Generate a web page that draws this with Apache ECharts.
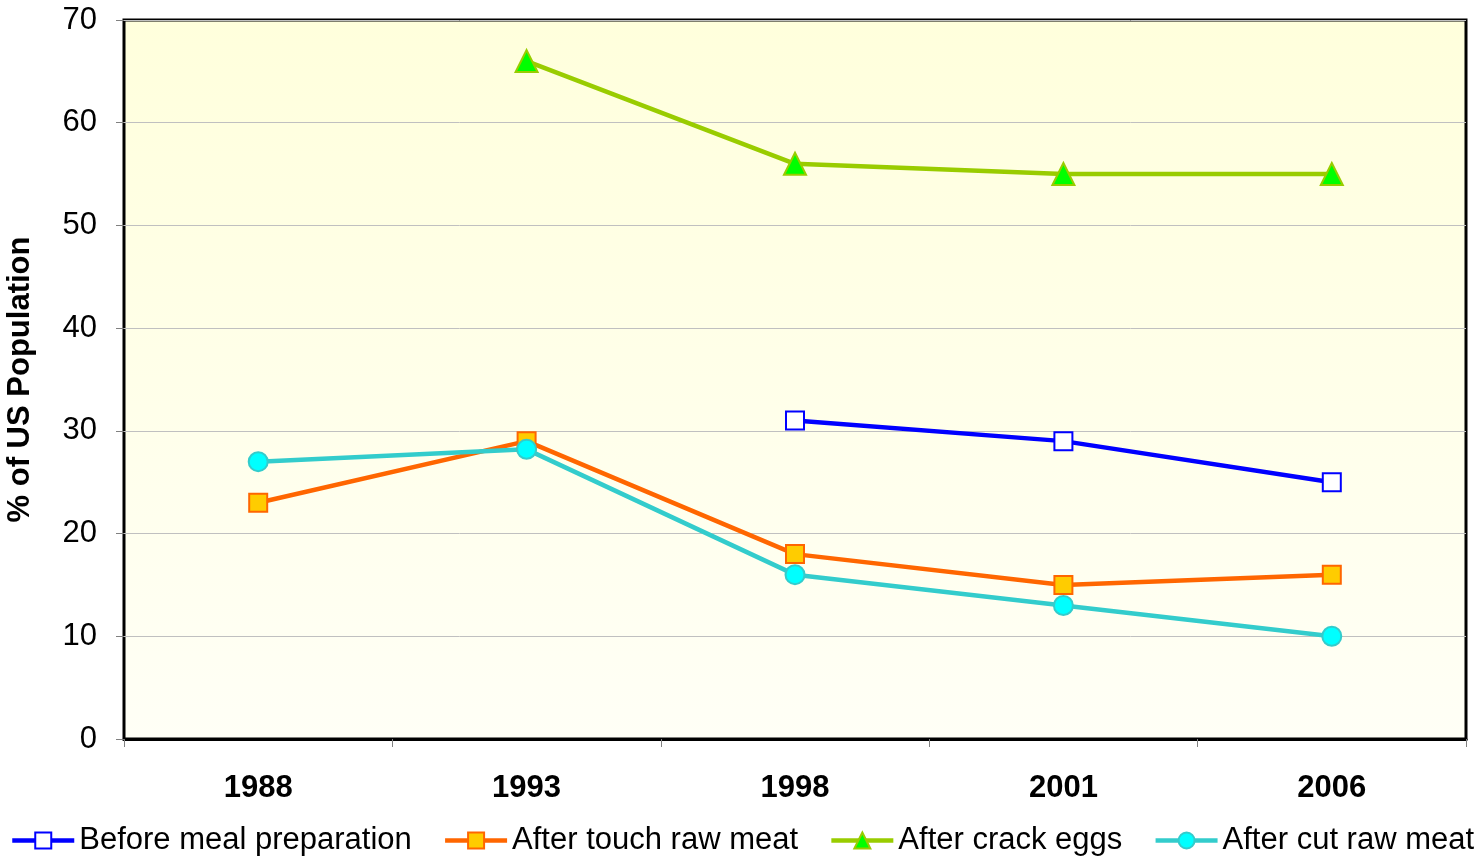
<!DOCTYPE html>
<html>
<head>
<meta charset="utf-8">
<script src="https://cdn.jsdelivr.net/npm/echarts@6/dist/echarts.min.js"></script>
<style>
  html, body { margin: 0; padding: 0; background: #fff; }
  #main { width: 1484px; height: 860px; }
</style>
</head>
<body>
<div id="main"></div>
<script>
var years = ['1988', '1993', '1998', '2001', '2006'];
var beforeMeal = [null, null, 31, 29, 25];
var afterTouchMeat = [23, 29, 18, 15, 16];
var afterCrackEggs = [null, 66, 56, 55, 55];
var afterCutMeat = [27, 28.2, 16, 13, 10];

var chartDom = document.getElementById('main');
var myChart = echarts.init(chartDom);
var option;

function lineSeries(name, data, lineColor, fill, symbol, size) {
  return {
    name: name,
    type: 'line',
    data: data,
    symbol: symbol,
    symbolSize: size,
    showAllSymbol: true,
    connectNulls: false,
    lineStyle: { color: lineColor, width: 4.5 },
    itemStyle: { color: fill, borderColor: lineColor, borderWidth: 2 },
    emphasis: { disabled: true }
  };
}

option = {
  animation: false,
  textStyle: { fontFamily: 'Liberation Sans, Arial, sans-serif' },
  grid: {
    left: 124,
    right: 18,
    top: 20,
    bottom: 121,
    containLabel: false,
    outerBoundsMode: 'none',
    show: true,
    borderColor: '#000',
    borderWidth: 3,
    backgroundColor: {
      type: 'linear', x: 0, y: 0, x2: 0, y2: 1,
      colorStops: [
        { offset: 0, color: '#FFFFDC' },
        { offset: 1, color: '#FFFFF6' }
      ]
    }
  },
  legend: {
    left: 10,
    bottom: 4,
    width: 1480,
    padding: 0,
    itemWidth: 62,
    itemHeight: 20,
    itemGap: 31,
    lineStyle: { width: 4.5 },
    textStyle: { fontSize: 31, color: '#000', fontFamily: 'Liberation Sans, Arial, sans-serif' },
    data: ['Before meal preparation', 'After touch raw meat', 'After crack eggs', 'After cut raw meat']
  },
  xAxis: {
    type: 'category',
    data: years,
    boundaryGap: true,
    axisLine: { show: true, lineStyle: { color: '#000', width: 3 } },
    axisTick: { show: true, inside: false, length: 8, lineStyle: { color: '#808080', width: 1 } },
    axisLabel: { fontSize: 31, fontWeight: 'bold', color: '#000', margin: 34 }
  },
  yAxis: {
    type: 'value',
    min: 0,
    max: 70,
    interval: 10,
    name: '% of US Population',
    nameLocation: 'middle',
    nameGap: 88,
    nameTextStyle: { fontSize: 31, fontWeight: 'bold', color: '#000' },
    axisLine: { show: false },
    axisTick: { show: true, inside: false, length: 8, lineStyle: { color: '#808080' } },
    axisLabel: { fontSize: 31, color: '#000', margin: 27 },
    splitLine: { show: true, lineStyle: { color: '#C0C0C0', width: 1 } }
  },
  series: [
    lineSeries('Before meal preparation', beforeMeal, '#0000FF', '#FFFFFF', 'rect', 18),
    lineSeries('After touch raw meat', afterTouchMeat, '#FF6600', '#FFCC00', 'rect', 18),
    lineSeries('After crack eggs', afterCrackEggs, '#99CC00', '#00FF00', 'triangle', 22),
    lineSeries('After cut raw meat', afterCutMeat, '#33CCCC', '#00FFFF', 'circle', 19)
  ]
};

option && myChart.setOption(option);
</script>
</body>
</html>
